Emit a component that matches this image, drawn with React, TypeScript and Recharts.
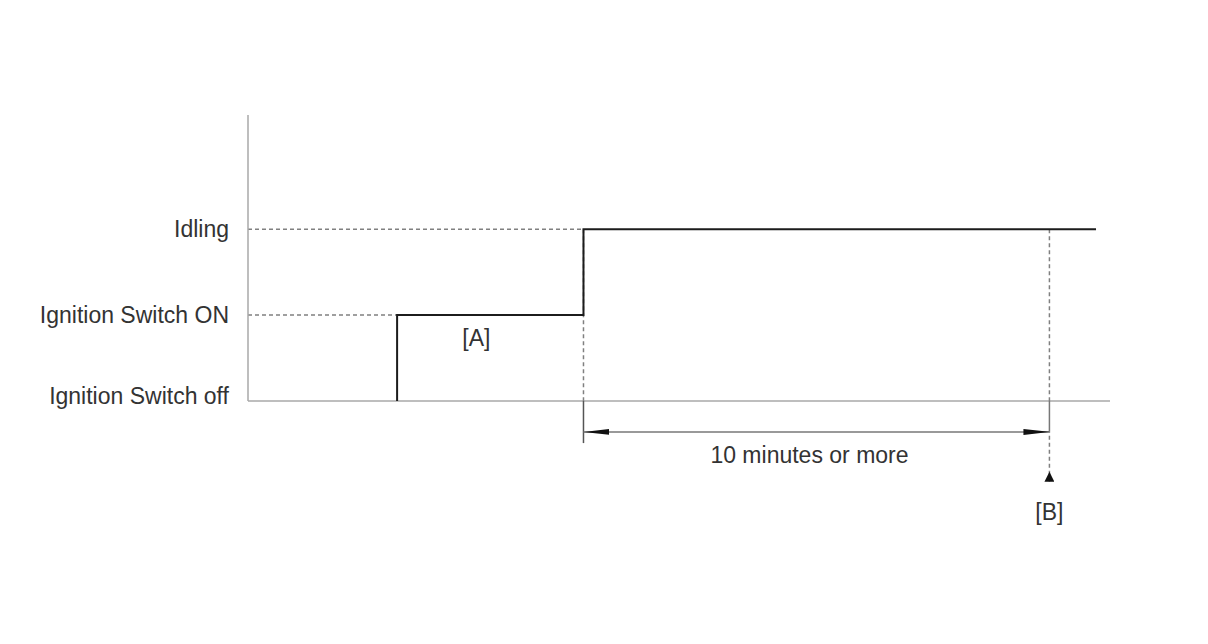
import React from "react";
import {
  LineChart,
  Line,
  XAxis,
  YAxis,
  ReferenceLine,
  ReferenceDot
} from "recharts";

// state levels on the y axis
const levelValues = [0, 1, 2];
const levelLabels = ["Ignition Switch off", "Ignition Switch ON", "Idling"];

// time in minutes
const timeMax = 18.5;
const ignitionOnAt = 3.2;
const idleStartAt = 7.2;
const markBAt = 17.2;
const traceEndAt = 18.2;

// state changes, drawn as a step-after line
const trace = [
  { t: ignitionOnAt, level: 0 },
  { t: ignitionOnAt, level: 1 },
  { t: idleStartAt, level: 2 },
  { t: traceEndAt, level: 2 }
];

// annotation positions in chart units
const spanArrowLevel = -0.36;
const idleTickBottom = -0.49;
const markArrowBottom = -0.94;
const labelA = { t: 4.9, level: 0.74, text: "[A]" };
const labelB = { t: markBAt, level: -1.29, text: "[B]" };
const labelSpan = { t: 12.05, level: -0.63, text: "10 minutes or more" };

const FONT = "'Liberation Sans', Arial, sans-serif";
const AXIS = "#a9a9a9";
const GUIDE = "#808080";
const INK = "#1c1c1c";
const TEXT = "#333";

const LevelTick = (props: any) => {
  const { x, y, payload } = props;
  const idx = levelValues.indexOf(payload.value);
  const shift = payload.value === 0 ? -5 : 0;
  return (
    <text
      x={x}
      y={y + shift}
      textAnchor="end"
      dominantBaseline="central"
      fontFamily={FONT}
      fontSize={23}
      fill={TEXT}
    >
      {levelLabels[idx]}
    </text>
  );
};

const arrowShape = (markerStart?: string, markerEnd?: string, dash?: string, color = INK) =>
  (props: any) => (
    <line
      x1={props.x1}
      y1={props.y1}
      x2={props.x2}
      y2={props.y2}
      stroke={color}
      strokeWidth={1.5}
      strokeDasharray={dash}
      markerStart={markerStart ? `url(#${markerStart})` : undefined}
      markerEnd={markerEnd ? `url(#${markerEnd})` : undefined}
    />
  );

const textLabel = (text: string) => ({
  value: text,
  position: "center" as const,
  fontFamily: FONT,
  fontSize: 23,
  fill: TEXT
});

export default function App() {
  return (
    <div style={{ position: "absolute", left: 0, top: 0, background: "#fff" }}>
      <LineChart
        width={1208}
        height={644}
        data={trace}
        margin={{ top: 115, right: 98, bottom: 243, left: 0 }}
      >
        <defs>
          <marker
            id="longHeadFwd"
            markerUnits="userSpaceOnUse"
            markerWidth={26}
            markerHeight={8}
            refX={26}
            refY={4}
            orient="auto"
          >
            <path d="M0,1 L26,4 L0,7 z" fill="#111" />
          </marker>
          <marker
            id="longHeadRev"
            markerUnits="userSpaceOnUse"
            markerWidth={26}
            markerHeight={8}
            refX={26}
            refY={4}
            orient="auto-start-reverse"
          >
            <path d="M0,1 L26,4 L0,7 z" fill="#111" />
          </marker>
          <marker
            id="smallHead"
            markerUnits="userSpaceOnUse"
            markerWidth={10}
            markerHeight={10}
            refX={0}
            refY={5}
            orient="auto"
          >
            <path d="M0,0 L10,5 L0,10 z" fill="#111" />
          </marker>
        </defs>
        <XAxis
          type="number"
          dataKey="t"
          domain={[0, timeMax]}
          hide
        />
        <YAxis
          type="number"
          domain={[0, 3.33]}
          ticks={levelValues}
          width={248}
          tickLine={false}
          tickSize={0}
          tickMargin={19}
          axisLine={{ stroke: AXIS, strokeWidth: 1.5 }}
          tick={<LevelTick />}
        />

        {/* time axis */}
        <ReferenceLine
          segment={[{ x: 0, y: 0 }, { x: timeMax, y: 0 }]}
          stroke={AXIS}
          strokeWidth={1.5}
          ifOverflow="visible"
        />

        {/* dashed level guides */}
        <ReferenceLine
          segment={[{ x: 0, y: 1 }, { x: ignitionOnAt, y: 1 }]}
          stroke={GUIDE}
          strokeWidth={1.5}
          strokeDasharray="4 3"
        />
        <ReferenceLine
          segment={[{ x: 0, y: 2 }, { x: idleStartAt, y: 2 }]}
          stroke={GUIDE}
          strokeWidth={1.5}
          strokeDasharray="4 3"
        />
        <ReferenceLine
          segment={[{ x: idleStartAt, y: 2 }, { x: idleStartAt, y: 0 }]}
          stroke={GUIDE}
          strokeWidth={1.5}
          strokeDasharray="4 3"
        />
        <ReferenceLine
          segment={[{ x: markBAt, y: 2 }, { x: markBAt, y: 0 }]}
          stroke={GUIDE}
          strokeWidth={1.5}
          strokeDasharray="4 3"
        />

        {/* extensions below the time axis */}
        <ReferenceLine
          segment={[{ x: idleStartAt, y: 0 }, { x: idleStartAt, y: idleTickBottom }]}
          ifOverflow="visible"
          shape={arrowShape(undefined, undefined, undefined, "#555")}
        />
        <ReferenceLine
          segment={[{ x: markBAt, y: 0 }, { x: markBAt, y: spanArrowLevel }]}
          ifOverflow="visible"
          shape={arrowShape(undefined, undefined, undefined, "#777")}
        />
        <ReferenceLine
          segment={[{ x: markBAt, y: markArrowBottom }, { x: markBAt, y: spanArrowLevel }]}
          ifOverflow="visible"
          shape={arrowShape("smallHead", undefined, "4 3", GUIDE)}
        />
        <ReferenceLine
          segment={[{ x: idleStartAt, y: spanArrowLevel }, { x: markBAt, y: spanArrowLevel }]}
          ifOverflow="visible"
          shape={arrowShape("longHeadRev", "longHeadFwd", undefined, "#777")}
        />

        <Line
          type="stepAfter"
          dataKey="level"
          stroke={INK}
          strokeWidth={2}
          dot={false}
          activeDot={false}
          isAnimationActive={false}
        />

        {[labelA, labelB, labelSpan].map((l) => (
          <ReferenceDot
            key={l.text}
            x={l.t}
            y={l.level}
            r={0}
            fill="none"
            stroke="none"
            ifOverflow="visible"
            label={textLabel(l.text)}
          />
        ))}
      </LineChart>
    </div>
  );
}
